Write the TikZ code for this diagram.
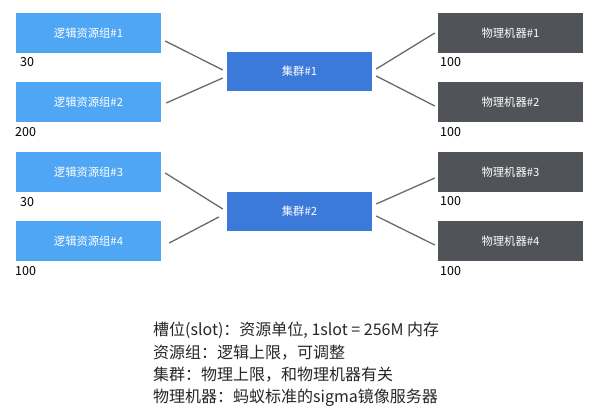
\documentclass[tikz,border=0pt]{standalone}
\usepackage{fontspec}
\setmainfont{Noto Sans CJK SC}
\usetikzlibrary{calc}

\definecolor{lightblue}{HTML}{4FA6F5}
\definecolor{clusterblue}{HTML}{3B7AD9}
\definecolor{machinegray}{HTML}{505357}
\definecolor{linkgray}{HTML}{6A6A6A}

\begin{document}
\begin{tikzpicture}[
        x=1pt, y=-1pt,
        every node/.style={font=\fontsize{11.3}{13}\selectfont},
        box/.style={
            minimum width=145pt,
            minimum height=40pt,
            inner sep=0pt,
            text=white
        },
        logic/.style={box, fill=lightblue},
        cluster/.style={box, fill=clusterblue, minimum height=39pt},
        machine/.style={box, fill=machinegray},
        num/.style={anchor=west, inner sep=0pt, font=\fontsize{12.5}{14}\selectfont},
        link/.style={draw=linkgray, line width=1.3pt},
        legend/.style={anchor=west, inner sep=0pt, text=black!85,
            font=\fontsize{16}{18}\selectfont}
    ]
    \useasboundingbox (0,0) rectangle (600,414);

    % =========================
    % logic resource groups
    % =========================
    \node[logic] (lg1) at (88.5,33) {逻辑资源组\#1};
    \node[logic] (lg2) at (88.5,102.5) {逻辑资源组\#2};
    \node[logic] (lg3) at (88.5,172) {逻辑资源组\#3};
    \node[logic] (lg4) at (88.5,241.5) {逻辑资源组\#4};

    \node[num] (n1) at (20,62) {30};
    \node[num] (n2) at (15,132) {200};
    \node[num] (n3) at (20,202) {30};
    \node[num] (n4) at (15,271) {100};

    % =========================
    % clusters
    % =========================
    \node[cluster] (cl1) at (299.5,71.5) {集群\#1};
    \node[cluster] (cl2) at (299.5,211.5) {集群\#2};

    % =========================
    % physical machines
    % =========================
    \node[machine] (pm1) at (510.5,33) {物理机器\#1};
    \node[machine] (pm2) at (510.5,102.5) {物理机器\#2};
    \node[machine] (pm3) at (510.5,172) {物理机器\#3};
    \node[machine] (pm4) at (510.5,241.5) {物理机器\#4};

    \node[num] (m1) at (440,62) {100};
    \node[num] (m2) at (440,132) {100};
    \node[num] (m3) at (440,201.5) {100};
    \node[num] (m4) at (440,271) {100};

    % links, a little off the box edges
    \draw[link] ($(lg1.east)+(4,8)$) -- ($(cl1.west)+(-4,-1.5)$);
    \draw[link] ($(lg2.east)+(5,0.5)$) -- ($(cl1.west)+(-4,6.5)$);
    \draw[link] ($(cl1.east)+(4,-2.5)$) -- ($(pm1.west)+(-3,0)$);
    \draw[link] ($(cl1.east)+(4,4.5)$) -- ($(pm2.west)+(-3,3.5)$);

    \draw[link] ($(lg3.east)+(4,1)$) -- ($(cl2.west)+(-4,-2.5)$);
    \draw[link] ($(lg4.east)+(8,1.5)$) -- ($(cl2.west)+(-8,5.5)$);
    \draw[link] ($(cl2.east)+(4,-7.5)$) -- ($(pm3.west)+(-3,6)$);
    \draw[link] ($(cl2.east)+(4,4.5)$) -- ($(pm4.west)+(-3,3.5)$);

    % legend
    \node[legend] (t1) at (153,330) {槽位(slot)：资源单位, 1slot = 256M 内存};
    \node[legend] (t2) at (153,352.5) {资源组：逻辑上限，可调整};
    \node[legend] (t3) at (153,375) {集群：物理上限，和物理机器有关};
    \node[legend] (t4) at (153,397.5) {物理机器：蚂蚁标准的sigma镜像服务器};

\end{tikzpicture}
\end{document}
